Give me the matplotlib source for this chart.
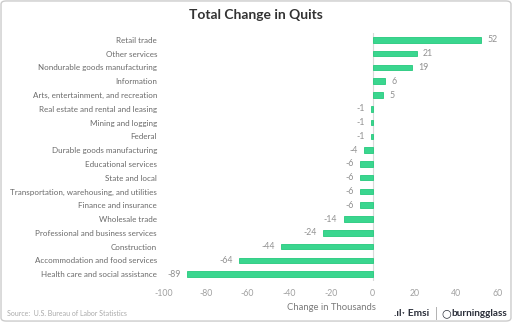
# Total change in quits by industry - horizontal bar chart
import matplotlib.pyplot as plt
from matplotlib.patches import FancyBboxPatch

industries = [
    "Retail trade", "Other services", "Nondurable goods manufacturing",
    "Information", "Arts, entertainment, and recreation",
    "Real estate and rental and leasing", "Mining and logging", "Federal",
    "Durable goods manufacturing", "Educational services", "State and local",
    "Transportation, warehousing, and utilities", "Finance and insurance",
    "Wholesale trade", "Professional and business services", "Construction",
    "Accommodation and food services", "Health care and social assistance",
]
changes = [52, 21, 19, 6, 5, -1, -1, -1, -4, -6, -6, -6, -6, -14, -24, -44, -64, -89]
xticks = [-100, -80, -60, -40, -20, 0, 20, 40, 60]

plt.rcParams['font.family'] = ['Lato', 'DejaVu Sans']
green = '#3ad68f'

fig = plt.figure(figsize=(5.12, 3.22), dpi=100)
fig.patch.set_facecolor('white')
ax = fig.add_axes([164/512, 1 - 281/322, 334/512, 248/322])

ypos = list(range(len(industries)))
ax.barh(ypos, changes, height=0.4, color=green, edgecolor='#25c97c', linewidth=0.6)
ax.set_ylim(len(industries) - 0.5, -0.5)
ax.set_xlim(-100, 60)
ax.set_xticks(xticks)
ax.set_xticklabels([str(t) for t in xticks], fontsize=6.3, color='#a0a0a0')
ax.set_yticks(ypos)
ax.set_yticklabels(industries, fontsize=5.8, color='#6a6a6a')
ax.tick_params(axis='both', length=0, pad=5)
ax.tick_params(axis='x', pad=6)
for s in ax.spines.values():
    s.set_visible(False)
ax.axvline(0, color='#d9d9d9', linewidth=0.8, zorder=0)

for y, v in zip(ypos, changes):
    if v >= 0:
        ax.text(v + 3, y, str(v), va='center', ha='left', fontsize=6.3, color='#909090')
    else:
        ax.text(v - 3, y, str(v), va='center', ha='right', fontsize=6.3, color='#909090')

ax.set_xlabel('Change in Thousands', fontsize=6.8, color='#7a7a7a', labelpad=3)

fig.text(0.5, 1 - 15/322, 'Total Change in Quits', ha='center', va='center',
         fontsize=10, fontweight='bold', color='#333333')
fig.text(7/512, 1 - 313/322, 'Source:  U.S. Bureau of Labor Statistics', ha='left', va='center',
         fontsize=5, color='#aaaaaa')
fig.text(394/512, 1 - 313/322, '.ıl\u02d1 Emsi', ha='left', va='center',
         fontsize=7.3, fontweight='bold', color='#2b2f3a')
fig.text(436/512, 1 - 313/322, '|', ha='center', va='center', fontsize=9, color='#aaaaaa')
fig.text(441/512, 1 - 313/322, '\u25cb', ha='left', va='center', fontsize=8,
         fontweight='bold', color='#2b2f3a', family=['DejaVu Sans'])
fig.text(451/512, 1 - 313/322, 'burningglass', ha='left', va='center',
         fontsize=7.2, fontweight='bold', color='#2b2f3a')

# light grey frame around the figure
fig.patches.append(FancyBboxPatch((0.002, 0.003), 0.996, 0.994, boxstyle='round,pad=0,rounding_size=0.01',
                                  transform=fig.transFigure, fill=False, edgecolor='#cccccc', linewidth=1))

fig.savefig('out.png', dpi=100)
